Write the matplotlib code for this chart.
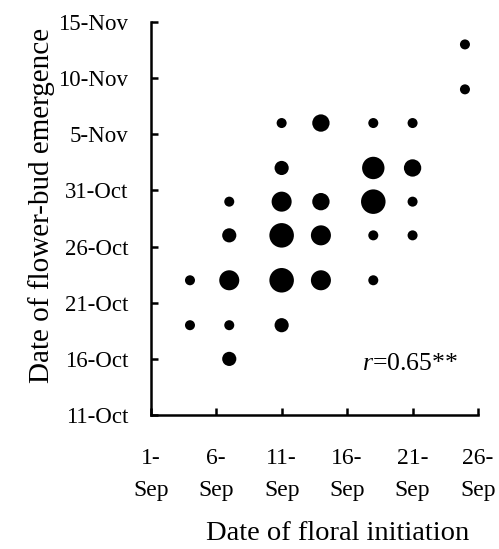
import matplotlib
matplotlib.use("Agg")
import matplotlib.pyplot as plt

plt.rcParams['font.family'] = ['Liberation Serif', 'DejaVu Serif']
plt.rcParams['mathtext.fontset'] = 'custom'
plt.rcParams['mathtext.rm'] = 'Liberation Serif'
plt.rcParams['mathtext.it'] = 'Liberation Serif:italic'

# days after 1-Sep (floral initiation), days after 11-Oct (bud emergence), number of plants
init_day = [24, 24, 10, 13, 17, 20, 10, 17, 20, 6, 10, 13, 17, 20,
            6, 10, 13, 17, 20, 3, 6, 10, 13, 17, 3, 6, 10, 6]
emerg_day = [33, 29, 26, 26, 26, 26, 22, 22, 22, 19, 19, 19, 19, 19,
             16, 16, 16, 16, 16, 12, 12, 12, 12, 12, 8, 8, 8, 5]
counts = [1, 1, 1, 3, 1, 1, 2, 5, 3, 1, 4, 3, 6, 1,
          2, 6, 4, 1, 1, 1, 4, 6, 4, 1, 1, 1, 2, 2]

x_ticks = [0, 5, 10, 15, 20, 25]
x_labels = ['1-\nSep', '6-\nSep', '11-\nSep', '16-\nSep', '21-\nSep', '26-\nSep']
y_ticks = [0, 5, 10, 15, 20, 25, 30, 35]
y_labels = ['11-Oct', '16-Oct', '21-Oct', '26-Oct', '31-Oct', '5-Nov', '10-Nov', '15-Nov']

fig = plt.figure(figsize=(4.99, 5.49), dpi=100)
ax = fig.add_axes([0.302, 0.244, 0.656, 0.716])

ax.scatter(init_day, emerg_day, s=[52 * c for c in counts], color='black',
           edgecolors='none', clip_on=False)

ax.set_xlim(0, 25)
ax.set_ylim(0, 35)
ax.set_xticks(x_ticks)
ax.set_xticklabels(x_labels, linespacing=1.65)
ax.set_yticks(y_ticks)
ax.set_yticklabels(y_labels)

for s in ['top', 'right']:
    ax.spines[s].set_visible(False)
for s in ['left', 'bottom']:
    ax.spines[s].set_linewidth(1.8)

ax.tick_params(direction='in', length=5, width=1.8, labelsize=16.5)
ax.tick_params(axis='y', pad=16)
ax.tick_params(axis='x', pad=24, labelsize=17)

ax.set_xlabel('Date of floral initiation', fontsize=20.5, va='top')
ax.set_ylabel('Date of flower-bud emergence', fontsize=21)
ax.xaxis.set_label_coords(0.572, -0.27)
ax.yaxis.set_label_coords(-0.293, 0.534)

ax.text(16.1, 4.0, r'$\it{r}$=0.65**', fontsize=18.5, va='baseline')

fig.savefig('out.png', dpi=100)
